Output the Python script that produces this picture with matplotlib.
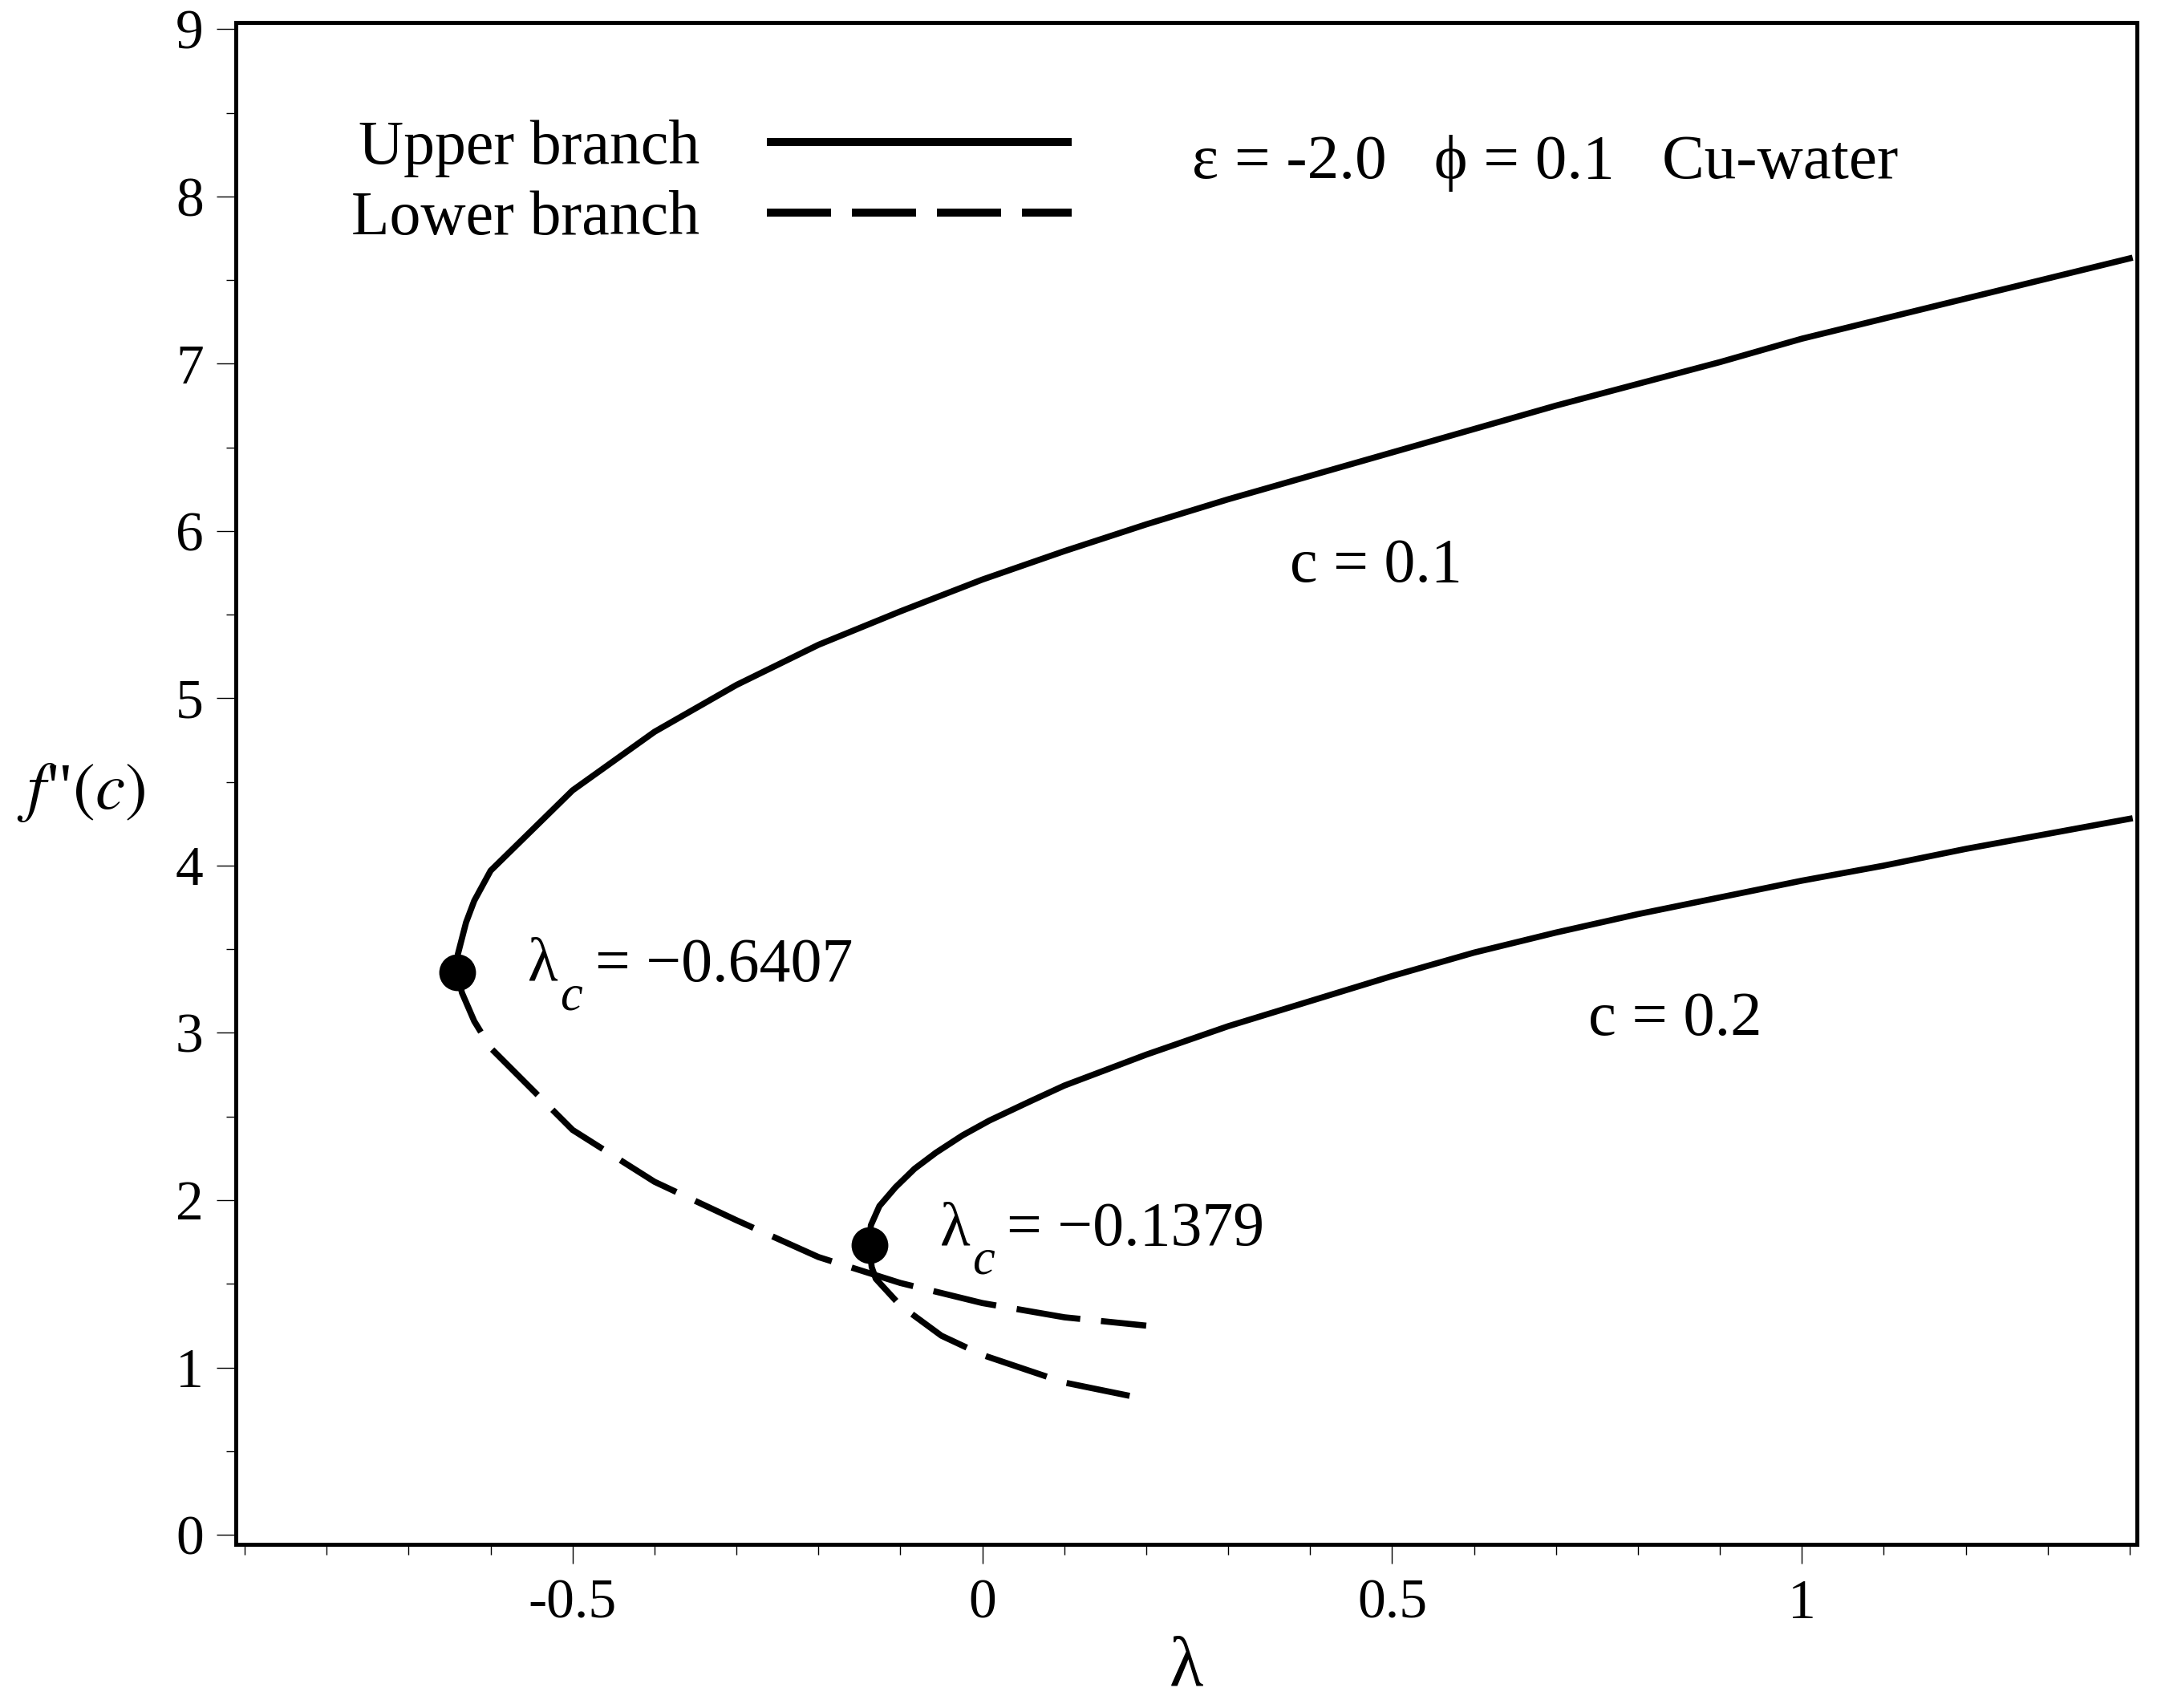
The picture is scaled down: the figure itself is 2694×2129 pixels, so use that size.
import matplotlib
matplotlib.use('Agg')
import matplotlib.pyplot as plt
from matplotlib.lines import Line2D
from matplotlib.ticker import MultipleLocator, FixedLocator, FuncFormatter

# ---------------- data ----------------
lam_c01_upper = [-0.6407, -0.640, -0.630, -0.620, -0.600, -0.5, -0.4, -0.3, -0.2, -0.1, 0.0,
                 0.1, 0.2, 0.3, 0.4, 0.5, 0.6, 0.7, 0.8, 0.9, 1.0, 1.1, 1.2, 1.3, 1.4]
f_c01_upper = [3.36, 3.47, 3.66, 3.79, 3.97, 4.45, 4.80, 5.08, 5.32, 5.52, 5.71,
               5.88, 6.04, 6.19, 6.33, 6.47, 6.61, 6.75, 6.88, 7.01, 7.15, 7.27, 7.39, 7.51, 7.63]

lam_c01_lower = [-0.6407, -0.635, -0.620, -0.600, -0.5, -0.4, -0.3, -0.2, -0.1, 0.0, 0.1, 0.2]
f_c01_lower = [3.36, 3.24, 3.07, 2.91, 2.42, 2.11, 1.88, 1.66, 1.505, 1.385, 1.30, 1.25]

lam_c02_upper = [-0.1379, -0.136, -0.1256, -0.106, -0.0827, -0.0566, -0.024, 0.0086, 0.0575,
                 0.1, 0.2, 0.3, 0.4, 0.5, 0.6, 0.7, 0.8, 0.9, 1.0, 1.1, 1.2, 1.3, 1.4]
f_c02_upper = [1.73, 1.85, 1.965, 2.077, 2.188, 2.284, 2.388, 2.476, 2.589,
               2.685, 2.87, 3.04, 3.19, 3.34, 3.48, 3.60, 3.71, 3.81, 3.91, 4.00, 4.10, 4.19, 4.28]

lam_c02_lower = [-0.1379, -0.135, -0.130, -0.1, -0.05, 0.0, 0.1, 0.2]
f_c02_lower = [1.73, 1.60, 1.53, 1.37, 1.19, 1.075, 0.91, 0.81]

lam_crit = [-0.6407, -0.1379]
f_crit = [3.36, 1.73]
crit_values = ['= −0.6407', '= −0.1379']

x_major = [-0.5, 0.0, 0.5, 1.0]
legend_labels = ['Upper branch', 'Lower branch']
param_text = 'ε = -2.0   ϕ = 0.1   Cu-water'
curve_labels = ['c = 0.1', 'c = 0.2']

# ---------------- style ----------------
plt.rcParams['font.family'] = ['Liberation Serif', 'DejaVu Serif']
plt.rcParams['mathtext.fontset'] = 'stix'
plt.rcParams['axes.unicode_minus'] = False

fig = plt.figure(figsize=(26.94, 21.29), dpi=100)
ax = fig.add_axes([0.1091, 0.0958, 0.8797, 0.8912])

LW = 5.5
DASH = (10.5, 3.4)

ax.plot(lam_c01_upper, f_c01_upper, color='k', lw=LW)
ax.plot(lam_c01_lower, f_c01_lower, color='k', lw=LW, dashes=DASH)
ax.plot(lam_c02_upper, f_c02_upper, color='k', lw=LW)
ax.plot(lam_c02_lower, f_c02_lower, color='k', lw=LW, dashes=DASH)
ax.plot(lam_crit, f_crit, 'o', color='k', ms=33, mew=0, zorder=5)

ax.set_xlim(-0.911, 1.4087)
ax.set_ylim(-0.0576, 9.042)

for s in ax.spines.values():
    s.set_linewidth(3.6)

ax.xaxis.set_major_locator(FixedLocator(x_major))
ax.xaxis.set_minor_locator(MultipleLocator(0.1))
ax.yaxis.set_major_locator(MultipleLocator(1))
ax.yaxis.set_minor_locator(MultipleLocator(0.5))
ax.xaxis.set_major_formatter(FuncFormatter(lambda v, p: '%g' % v))
ax.yaxis.set_major_formatter(FuncFormatter(lambda v, p: '%d' % round(v)))

ax.tick_params(axis='both', which='major', direction='out', length=17, width=1.0,
               labelsize=50, top=False, right=False)
ax.tick_params(axis='both', which='minor', direction='out', length=9, width=1.0,
               top=False, right=False)
ax.tick_params(axis='x', which='major', pad=14)
ax.tick_params(axis='y', which='major', pad=12)

ax.set_xlabel('λ', fontsize=63)
ax.xaxis.label.set_va('center')
ax.xaxis.set_label_coords(0.5, -0.0817)
ax.set_ylabel(r'$f$"$(c)$', rotation=0, fontsize=60, ha='center', va='center')
ax.yaxis.set_label_coords(-0.0814, 0.494)

# critical-point annotations: λ, lowered italic subscript c, and the value
crit_anchor = [(-0.5544, 3.311), (-0.0517, 1.730)]
for (tx, ty), val in zip(crit_anchor, crit_values):
    ax.text(tx, ty, 'λ', fontsize=56, va='baseline', ha='left')
    ax.annotate('c', xy=(tx, ty), xytext=(29, -25.6), textcoords='offset points',
                fontsize=45, style='italic', va='baseline', ha='left')
    ax.annotate(val, xy=(tx, ty), xytext=(60, 0), textcoords='offset points',
                fontsize=56, va='baseline', ha='left')

ax.text(0.3753, 5.698, curve_labels[0], fontsize=56, va='baseline', ha='left')
ax.text(0.739, 2.99, curve_labels[1], fontsize=56.5, va='baseline', ha='left')
ax.text(0.256, 8.112, param_text, fontsize=57, va='baseline', ha='left')

# legend
h1 = Line2D([], [], color='k', lw=7.2, solid_capstyle='butt')
h2 = Line2D([], [], color='k', lw=7.2, dashes=(8, 2.6), dash_capstyle='butt')
ax.legend([h1, h2], legend_labels, loc='upper left', bbox_to_anchor=(0.0608, 0.936),
          frameon=False, fontsize=56, markerfirst=False, handlelength=4.88,
          handletextpad=1.08, labelspacing=0.215, borderpad=0, borderaxespad=0)

fig.savefig('out.png', dpi=100)
